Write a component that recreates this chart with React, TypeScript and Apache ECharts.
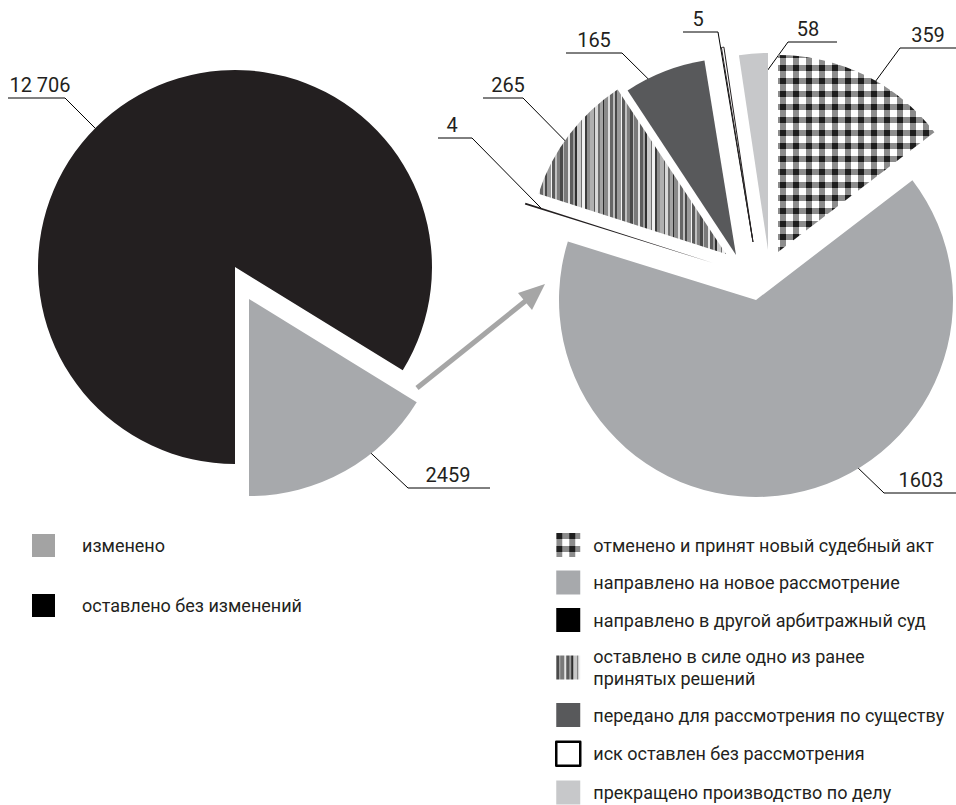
import React, { useEffect, useRef } from 'react';
import * as echarts from 'echarts';

// ---------- data ----------
const leftNames = ['оставлено без изменений', 'изменено'];
const leftValues = [12706, 2459];
const leftLegendOrder = ['изменено', 'оставлено без изменений'];

const rightNames = [
  'отменено и принят новый судебный акт',
  'направлено на новое рассмотрение',
  'направлено в другой арбитражный суд',
  'оставлено в силе одно из ранее\nпринятых решений',
  'передано для рассмотрения по существу',
  'иск оставлен без рассмотрения',
  'прекращено производство по делу',
];
const rightValues = [359, 1603, 4, 265, 165, 5, 58];

// ---------- layout (positions / styles) ----------
const RADIUS = 197;
const LEFT_START = 270;
const RIGHT_START = 90;
const LEFT_CENTERS = [[235, 267], [249, 299]];
const RIGHT_CENTERS = [[778, 252], [756, 300], [713, 263], [726, 254], [736, 255], [753, 242], [768, 250]];
// leader start: [angle clockwise from 12 o'clock, fraction of radius]
const LEFT_LEADERS = [[314.7, 0.7], [142.7, 0.887]];
const RIGHT_LEADERS = [[28.6, 0.85], [152, 0.82], [287.5, 0.91], [302.2, 0.78], [342.5, 0.69], [351, 0.02], [356.2, 0.84]];
// underline: [bendX, farX, y, textCenterX]
const LEFT_UNDER = [[65, 8, 98, 40], [408, 490, 488, 448]];
const RIGHT_UNDER = [[900, 956, 48, 928], [884, 956, 493, 921], [472, 438, 138, 452], [523, 483, 98, 508], [622, 566, 53, 594], [718, 683, 32, 698], [788, 837, 42, 808]];

const INK = '#231f20';

const STRIPES: [number, string][] = [
  [3, '#4a4a4a'], [1, '#bdbdbd'], [4, '#7a7a7a'], [2, '#e6e6e6'], [3, '#5c5c5c'], [2, '#9e9e9e'],
  [2, '#2e2e2e'], [4, '#c8c8c8'], [1, '#6e6e6e'], [3, '#f0f0f0'], [2, '#3a3a3a'], [3, '#8e8e8e'],
  [4, '#b0b0b0'], [1, '#555555'], [3, '#d9d9d9'], [2, '#707070'], [3, '#a4a4a4'], [1, '#2a2a2a'],
  [4, '#8a8a8a'], [2, '#e0e0e0'], [3, '#666666'], [2, '#bcbcbc'], [2, '#474747'], [4, '#999999'],
  [1, '#f5f5f5'], [3, '#5a5a5a'], [2, '#c0c0c0'], [3, '#7d7d7d'],
];

function makeChecker() {
  const P = 13, h = 6;
  const c = document.createElement('canvas');
  c.width = P; c.height = P;
  const g = c.getContext('2d')!;
  g.fillStyle = '#ffffff'; g.fillRect(0, 0, P, P);
  g.fillStyle = '#8c8c8c'; g.fillRect(0, 0, h, P); g.fillRect(0, 0, P, h);
  g.fillStyle = '#1e1e1e'; g.fillRect(0, 0, h, h);
  return { image: c, repeat: 'repeat', imageWidth: P, imageHeight: P };
}

function makeStripes() {
  const W = STRIPES.reduce((s, d) => s + d[0], 0);
  const H = 8;
  const c = document.createElement('canvas');
  c.width = W; c.height = H;
  const g = c.getContext('2d')!;
  let x = 0;
  for (const [w, col] of STRIPES) { g.fillStyle = col; g.fillRect(x, 0, w, H); x += w; }
  return { image: c, repeat: 'repeat', imageWidth: W, imageHeight: H };
}

const fmt = (v: number) => (v >= 10000 ? String(v).replace(/\B(?=(\d{3})+(?!\d))/g, ' ') : String(v));

function sliceSeries(names: string[], values: number[], target: number, center: number[], startAngle: number, styles: any[], leader: number[], under: number[]) {
  return {
    type: 'pie',
    silent: true,
    radius: RADIUS,
    center,
    startAngle,
    clockwise: true,
    avoidLabelOverlap: false,
    emphasis: { disabled: true },
    data: values.map((v, j) => ({
      value: v,
      name: j === target ? names[j] : `_${target}_${j}`,
      itemStyle: j === target ? styles[j] : { color: 'rgba(0,0,0,0)', borderWidth: 0 },
      label: { show: j === target },
      labelLine: { show: j === target },
    })),
    label: {
      position: 'outside',
      formatter: (p: any) => fmt(p.value),
      fontSize: 20,
      fontFamily: 'Roboto',
      color: INK,
    },
    labelLine: { length: 10, length2: 10, smooth: false, lineStyle: { color: '#000000', width: 1 } },
    labelLayout: (params: any) => {
      if (params.dataIndex !== target) return {};
      const a = (leader[0] * Math.PI) / 180;
      const sx = center[0] + Math.sin(a) * RADIUS * leader[1];
      const sy = center[1] - Math.cos(a) * RADIUS * leader[1];
      return {
        x: under[3],
        y: under[2] - 13,
        align: 'center',
        verticalAlign: 'middle',
        labelLinePoints: [[sx, sy], [under[0], under[2]], [under[1], under[2]]],
      };
    },
  };
}

export default function App() {
  const ref = useRef<HTMLDivElement>(null);
  useEffect(() => {
    if (!ref.current) return;
    const chart = echarts.init(ref.current, undefined, { renderer: 'svg' });
    const checker = makeChecker();
    const stripes = makeStripes();

    const leftStyles = [
      { color: INK, borderWidth: 0 },
      { color: '#a7a9ac', borderWidth: 0 },
    ];
    const rightStyles = [
      { color: checker, borderWidth: 0 },
      { color: '#a7a9ac', borderWidth: 0 },
      { color: INK, borderWidth: 0 },
      { color: stripes, borderWidth: 0 },
      { color: '#58595b', borderWidth: 0 },
      { color: '#ffffff', borderColor: INK, borderWidth: 1 },
      { color: '#c7c8ca', borderWidth: 0 },
    ];

    const series: any[] = [];
    leftValues.forEach((_, i) => series.push(sliceSeries(leftNames, leftValues, i, LEFT_CENTERS[i], LEFT_START, leftStyles, LEFT_LEADERS[i], LEFT_UNDER[i])));
    rightValues.forEach((_, i) => series.push(sliceSeries(rightNames, rightValues, i, RIGHT_CENTERS[i], RIGHT_START, rightStyles, RIGHT_LEADERS[i], RIGHT_UNDER[i])));

    const legendTextL = { fontSize: 18, fontFamily: 'Roboto', color: INK, lineHeight: 22, padding: [0, 0, 0, 22] };
    const legendTextR = { fontSize: 18, fontFamily: 'Roboto', color: INK, lineHeight: 22, padding: [0, 0, 0, 8] };

    const option: any = {
      animation: false,
      backgroundColor: '#ffffff',
      textStyle: { fontFamily: 'Roboto' },
      legend: [
        {
          orient: 'vertical', left: 32, top: 534, padding: 0,
          itemWidth: 23, itemHeight: 23, itemGap: 37,
          icon: 'rect', selectedMode: false, textStyle: legendTextL,
          data: leftLegendOrder.map((n) => ({ name: n, itemStyle: n === leftNames[0] ? { color: '#000000' } : { color: '#a3a3a3' } })),
        },
        {
          orient: 'vertical', left: 555, top: 533, padding: 0,
          itemWidth: 24, itemHeight: 24, itemGap: 13.5,
          icon: 'rect', selectedMode: false, textStyle: legendTextR,
          data: rightNames.map((n, i) => ({
            name: n,
            itemStyle: i === 5 ? { color: '#ffffff', borderColor: '#000000', borderWidth: 2.5 } : i === 2 ? { color: '#000000' } : {},
          })),
        },
      ],
      graphic: [
        { type: 'line', silent: true, shape: { x1: 417, y1: 388, x2: 528, y2: 299 }, style: { stroke: '#a6a6a6', lineWidth: 5 } },
        { type: 'polygon', silent: true, shape: { points: [[545, 284], [518, 293], [532, 310]] }, style: { fill: '#a6a6a6' } },
      ],
      series,
    };
    chart.setOption(option);
    return () => chart.dispose();
  }, []);
  return <div ref={ref} style={{ position: 'fixed', left: 0, top: 0, width: 956, height: 805 }} />;
}
